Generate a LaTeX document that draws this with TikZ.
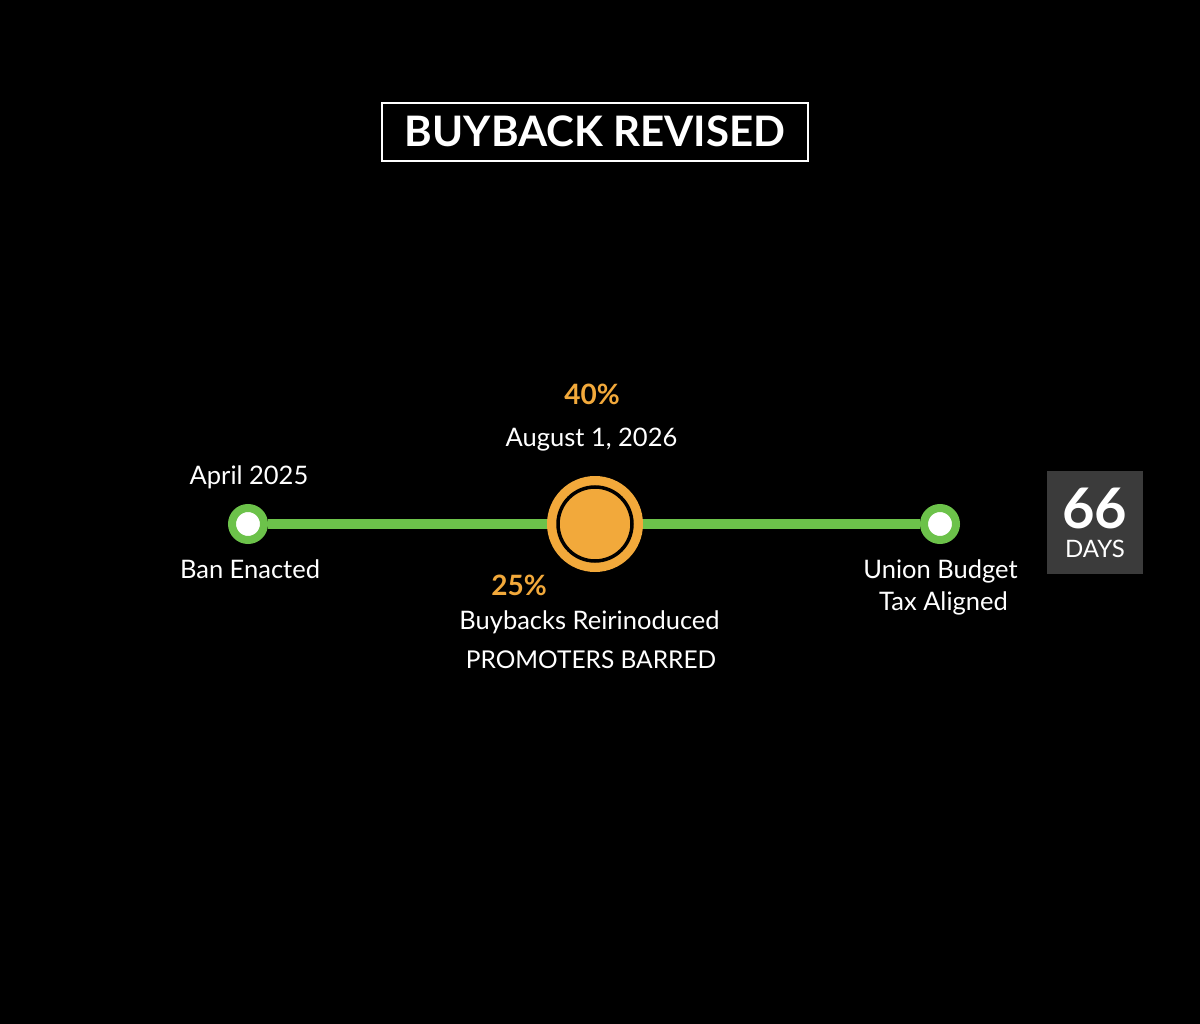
\documentclass[tikz,border=0pt]{standalone}
\usepackage{fontspec}
\setmainfont{Lato}
\usepackage{xcolor}
\usepackage{tikz}
\usetikzlibrary{positioning}
\definecolor{bbgreen}{HTML}{6CC24A}
\definecolor{bborange}{HTML}{F2A93B}
\definecolor{bbgrey}{HTML}{3B3B3B}
\tikzset{
  evtext/.style={font=\fontsize{25.5}{30}\selectfont, text=white, anchor=base, inner sep=0pt},
  pcttext/.style={font=\fontsize{28}{32}\selectfont\bfseries, text=bborange, anchor=base, inner sep=0pt},
  gdot/.style={circle, fill=white, draw=bbgreen, line width=8pt, minimum size=32pt, inner sep=0pt}
}

\begin{document}
\begin{tikzpicture}[x=1pt, y=-1pt]
      \fill[black] (0,0) rectangle (1200,1024);
      % title
      \node[draw=white, line width=2pt, minimum width=426pt, minimum height=58pt, inner sep=0pt] (titlebox) at (595,132) {};
      \node[font=\fontsize{42}{46}\selectfont\bfseries, text=white, anchor=base, inner sep=0pt] (title) at (595,147) {BUYBACK REVISED};
      % timeline dots
      \node[gdot] (ban) at (248,524) {};
      \node[gdot] (budget) at (940,524) {};
      \node[circle, fill=bborange, minimum size=96pt, inner sep=0pt] (aug) at (595,524) {};
      \draw[bbgreen, line width=10pt] (ban) -- (aug) -- (budget);
      \node[circle, fill=bborange, draw=black, line width=3.5pt, minimum size=74pt, inner sep=0pt] (augcore) at (aug.center) {};
      % labels
      \node[evtext] (apr) at (249,484) {April 2025};
      \node[evtext] (banlbl) at (250,578) {Ban Enacted};
      \node[pcttext] (pct40) at (592,405) {40\%};
      \node[evtext] (auglbl) at (591.5,446) {August 1, 2026};
      \node[pcttext] (pct25) at (519,595) {25\%};
      \node[evtext] (reintro) at (589.5,629) {Buybacks Reirinoduced};
      \node[evtext, font=\fontsize{24.5}{28}\selectfont] (barred) at (591,668) {PROMOTERS BARRED};
      \node[evtext] (union) at (940.5,578) {Union Budget};
      \node[evtext] (tax) at (943.5,610) {Tax Aligned};
      % countdown box
      \node[fill=bbgrey, minimum width=96pt, minimum height=103pt, inner sep=0pt] (daysbox) at (1095,522.5) {};
      \node[font=\fontsize{56}{60}\selectfont\bfseries, text=white, anchor=base, inner sep=0pt] (days) at (1094.5,528) {66};
      \node[font=\fontsize{24}{28}\selectfont, text=white, anchor=base, inner sep=0pt] (dayslbl) at (1095,557) {DAYS};
    \end{tikzpicture}
\end{document}
